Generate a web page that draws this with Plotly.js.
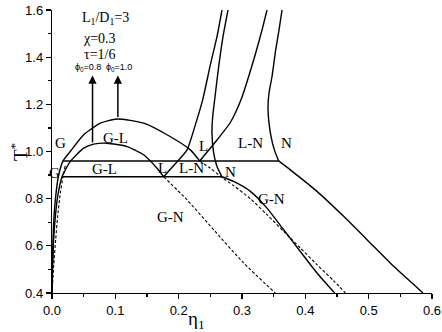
<!DOCTYPE html>
<html>
<head>
<meta charset="utf-8">
<script src="https://cdn.plot.ly/plotly-3.0.1.min.js"></script>
<style>
  html, body { margin: 0; padding: 0; background: #fff; }
  #chart { width: 442px; height: 332px; }
</style>
</head>
<body>
<div id="chart"></div>
<script>
// G-L binodal, phi0 = 1.0
const glHighX = [0, 0.0005, 0.0016, 0.0032, 0.0058, 0.010, 0.0174, 0.0289, 0.050, 0.0763, 0.1026, 0.1447, 0.1816, 0.2184, 0.2332];
const glHighY = [0.40, 0.513, 0.626, 0.725, 0.809, 0.893, 0.960, 1.000, 1.071, 1.120, 1.138, 1.120, 1.071, 1.007, 0.960];

// G-L binodal, phi0 = 0.8
const glLowX = [0, 0.0011, 0.0026, 0.0053, 0.0089, 0.0158, 0.0184, 0.0289, 0.050, 0.0658, 0.0868, 0.1184, 0.1447, 0.1658, 0.1763];
const glLowY = [0.40, 0.513, 0.626, 0.725, 0.809, 0.893, 0.908, 0.958, 1.014, 1.031, 1.035, 1.021, 0.986, 0.929, 0.893];

// L-N coexistence, liquid side
const lnLowLX = [0.1763, 0.1947, 0.2132, 0.2263, 0.2379, 0.250, 0.2605, 0.2684];
const lnLowLY = [0.893, 0.948, 1.007, 1.113, 1.219, 1.367, 1.487, 1.600];
const lnHighLX = [0.2332, 0.2605, 0.2816, 0.2984, 0.3184, 0.3316, 0.3395];
const lnHighLY = [0.960, 1.049, 1.123, 1.219, 1.388, 1.515, 1.600];

// L-N coexistence, nematic side
const lnLowNX = [0.2684, 0.2605, 0.2553, 0.2526, 0.2537, 0.2568, 0.2632, 0.270, 0.2779];
const lnLowNY = [0.893, 0.936, 0.993, 1.078, 1.148, 1.219, 1.360, 1.487, 1.600];
const lnHighNX = [0.3579, 0.3511, 0.3458, 0.3421, 0.3411, 0.3426, 0.3474, 0.3532, 0.3584, 0.3632];
const lnHighNY = [0.960, 1.007, 1.064, 1.134, 1.191, 1.247, 1.318, 1.431, 1.515, 1.600];

// G-N coexistence, nematic side
const gnLowX = [0.2684, 0.2868, 0.3132, 0.3395, 0.3658, 0.3921, 0.4184, 0.4463];
const gnLowY = [0.893, 0.873, 0.831, 0.760, 0.668, 0.576, 0.485, 0.400];
const gnHighX = [0.3579, 0.3763, 0.4184, 0.4605, 0.4974, 0.5395, 0.5858];
const gnHighY = [0.960, 0.922, 0.831, 0.725, 0.626, 0.513, 0.400];

// dashed curves
const dashAX = [0.1763, 0.2132, 0.2553, 0.3026, 0.3526];
const dashAY = [0.893, 0.795, 0.668, 0.527, 0.400];
const dashBX = [0.2332, 0.250, 0.2684, 0.2868, 0.3132, 0.3395, 0.3658, 0.3921, 0.4184, 0.4447, 0.4632];
const dashBY = [0.960, 0.929, 0.890, 0.855, 0.800, 0.732, 0.661, 0.591, 0.520, 0.452, 0.400];
const dashCX = [0, 0.0026, 0.0058, 0.0089, 0.0132, 0.0174, 0.0211];
const dashCY = [0.40, 0.513, 0.626, 0.725, 0.824, 0.893, 0.943];

// triple lines
const tripleHighX = [0.0174, 0.3579];
const tripleHighY = [0.960, 0.960];
const tripleLowX = [0.0158, 0.2684];
const tripleLowY = [0.893, 0.893];

const regionText = ['G', 'G-L', 'G-L', 'G', 'L', 'L', 'L-N', 'L-N', 'N', 'N', 'G-N', 'G-N'];
const regionX = [0.014, 0.100, 0.083, 0.004, 0.239, 0.175, 0.221, 0.314, 0.371, 0.282, 0.347, 0.187];
const regionY = [1.035, 1.056, 0.924, 0.910, 1.025, 0.929, 0.929, 1.035, 1.035, 0.914, 0.800, 0.724];

const arrowX = [0.064, 0.104];
const arrowFrom = [1.032, 1.140];
const arrowTo = [1.322, 1.322];

const solid = { color: '#000', width: 1.4, shape: 'spline', smoothing: 0.6 };
const dashed = { color: '#000', width: 1.1, dash: '3px,2px', shape: 'spline', smoothing: 0.6 };
const flat = { color: '#000', width: 1.4 };

function curve(x, y, line) {
  return { x: x, y: y, mode: 'lines', type: 'scatter', line: line, hoverinfo: 'skip' };
}

const traces = [
  curve(glHighX, glHighY, solid),
  curve(glLowX, glLowY, solid),
  curve(lnLowLX, lnLowLY, solid),
  curve(lnHighLX, lnHighLY, solid),
  curve(lnLowNX, lnLowNY, solid),
  curve(lnHighNX, lnHighNY, solid),
  curve(gnLowX, gnLowY, solid),
  curve(gnHighX, gnHighY, solid),
  curve(dashAX, dashAY, dashed),
  curve(dashBX, dashBY, dashed),
  curve(dashCX, dashCY, dashed),
  curve(tripleHighX, tripleHighY, flat),
  curve(tripleLowX, tripleLowY, flat)
];

const serif = 'Liberation Serif';
const sans = 'Liberation Sans';
const annotations = [];

for (let i = 0; i < regionText.length; i++) {
  annotations.push({
    x: regionX[i], y: regionY[i], text: regionText[i], showarrow: false,
    font: { family: serif, size: 15, color: '#000' }
  });
}

for (let i = 0; i < arrowX.length; i++) {
  annotations.push({
    x: arrowX[i], y: arrowTo[i], ax: arrowX[i], ay: arrowFrom[i],
    xref: 'x', yref: 'y', axref: 'x', ayref: 'y',
    text: '', showarrow: true, arrowhead: 2, arrowsize: 1.1, arrowwidth: 1.5, arrowcolor: '#000'
  });
}

annotations.push(
  { x: 0.0845, y: 1.566, text: 'L<sub>1</sub>/D<sub>1</sub>=3', showarrow: false, font: { family: serif, size: 14, color: '#000' } },
  { x: 0.075, y: 1.478, text: 'χ=0.3', showarrow: false, font: { family: serif, size: 14, color: '#000' } },
  { x: 0.075, y: 1.41, text: 'τ=1/6', showarrow: false, font: { family: serif, size: 14, color: '#000' } },
  { x: 0.0565, y: 1.356, text: 'ϕ<sub>0</sub>=0.8', showarrow: false, font: { family: sans, size: 9, color: '#000' } },
  { x: 0.1055, y: 1.356, text: 'ϕ<sub>0</sub>=1.0', showarrow: false, font: { family: sans, size: 9, color: '#000' } },
  // axis titles placed where the reference has them
  { xref: 'paper', yref: 'paper', x: 0.38, y: -0.095, yanchor: 'middle', text: 'η<sub>1</sub>', showarrow: false, font: { family: serif, size: 19, color: '#000' } },
  { xref: 'paper', yref: 'paper', x: -0.125, y: 0.5, textangle: -90, text: 'T<sup>*</sup>', showarrow: false, font: { family: serif, size: 19, color: '#000' } }
);

const layout = {
  width: 442,
  height: 332,
  margin: { l: 52, r: 10, t: 10, b: 39 },
  showlegend: false,
  paper_bgcolor: '#fff',
  plot_bgcolor: '#fff',
  font: { family: sans, size: 13, color: '#000' },
  xaxis: {
    range: [0, 0.6], dtick: 0.1, tick0: 0, tickformat: '.1f',
    showgrid: false, zeroline: false, showline: true, linecolor: '#000', linewidth: 1.2,
    ticks: 'outside', ticklen: 5, tickwidth: 1.2, tickcolor: '#000',
    minor: { dtick: 0.05, ticks: 'outside', ticklen: 3, tickcolor: '#000' }
  },
  yaxis: {
    range: [0.4, 1.6], dtick: 0.2, tick0: 0.4, tickformat: '.1f',
    showgrid: false, zeroline: false, showline: true, linecolor: '#000', linewidth: 1.2,
    ticks: 'outside', ticklen: 5, tickwidth: 1.2, tickcolor: '#000',
    minor: { dtick: 0.1, ticks: 'outside', ticklen: 3, tickcolor: '#000' }
  },
  annotations: annotations
};

Plotly.newPlot('chart', traces, layout, { staticPlot: true });
</script>
</body>
</html>
